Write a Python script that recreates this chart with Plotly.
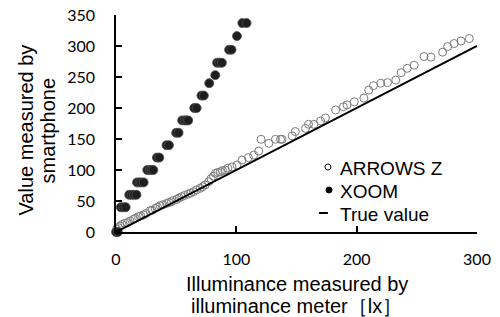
import plotly.graph_objects as go

# ARROWS Z (open circles)
arrows_x = [0.5, 2, 3.3, 5, 7.5, 9.5, 11.7, 14.4, 16, 18.6, 20.5, 22.8, 25, 28.3, 30,
            32.5, 34.5, 36.7, 39, 42, 44, 46, 48, 50.5, 52.5, 54.7, 57, 60, 62, 64.4,
            67, 70, 72, 74, 77, 79, 81, 82.5, 84.5, 86.7, 88.5, 90.8, 93, 96.4, 100.5,
            104.7, 110, 114.4, 118.6, 120.6, 127, 132.5, 136.7, 138, 146.4, 149, 157.5,
            160, 164.4, 170, 174, 182.5, 189, 192, 198, 206, 210, 214, 220, 225.6,
            232.5, 237, 242, 247.8, 256, 261.7, 271.4, 275.6, 281, 286.7, 293.6]
arrows_y = [5, 7, 9.7, 12, 14, 15, 17.7, 20.4, 22, 24.7, 26, 27.4, 30, 34.4, 35,
            38, 40, 42.4, 44, 46, 47.5, 48.9, 51, 52.7, 55, 57, 59, 61, 63, 65,
            68, 70.5, 73, 75.8, 81, 86, 90, 94.6, 96, 97, 99, 100, 103, 105, 108,
            116, 120, 124, 130.6, 149.5, 143, 149.5, 149.5, 149.5, 155, 162, 167,
            173.7, 173.7, 179, 184, 196.8, 202, 205, 210, 216, 229, 236, 240, 241,
            245, 257, 264, 269, 283, 282, 290, 299, 304, 308, 312]

# XOOM (filled circles)
xoom_x = [0, 1.5, 4, 6, 8, 11, 13, 15, 17, 17.5, 19.5, 21, 23, 26, 28, 29.5, 31,
          34, 36, 42, 44, 50, 52, 55, 57, 58.5, 60, 65, 67, 71, 73, 77.5, 82.5,
          84, 86, 88, 94, 96, 100.5, 105, 108.5]
xoom_y = [0, 0, 40, 40, 40, 60, 60, 60, 60, 80, 80, 80, 80, 100, 100, 100, 100,
          120, 120, 140, 140, 160, 160, 180, 180, 180, 180, 200, 200, 220, 220, 240,
          253, 273, 273, 273, 294, 294, 316, 337, 337]

# True value line
true_x = [0, 300]
true_y = [0, 300]

x_ticks = [0, 100, 200, 300]
y_ticks = [0, 50, 100, 150, 200, 250, 300, 350]

legend_names = ["ARROWS Z", "XOOM", "True value"]

fig = go.Figure()
fig.add_trace(go.Scatter(x=arrows_x, y=arrows_y, mode="markers", name=legend_names[0],
                         marker=dict(symbol="circle-open", size=8, color="#7a7a7a",
                                     line=dict(width=1, color="#7a7a7a")),
                         cliponaxis=False))
fig.add_trace(go.Scatter(x=xoom_x, y=xoom_y, mode="markers", name=legend_names[1],
                         marker=dict(symbol="circle", size=9, color="#1e1e1e",
                                     line=dict(width=0.8, color="#505050")),
                         cliponaxis=False))
fig.add_trace(go.Scatter(x=true_x, y=true_y, mode="lines", name=legend_names[2],
                         line=dict(color="black", width=2)))

axis_common = dict(showgrid=False, zeroline=False, showline=True, linecolor="black",
                   linewidth=1.5, ticks="inside", ticklen=6, tickwidth=1.5,
                   tickcolor="black", automargin=False,
                   tickfont=dict(family="Lato", size=16, color="black"))

fig.update_xaxes(range=[0, 300], tickvals=x_ticks, ticklabelstandoff=12, **axis_common)
fig.update_yaxes(range=[0, 350], tickvals=y_ticks, ticklabelstandoff=16, **axis_common)

title_font = dict(family="Liberation Sans, Arial", size=20, color="black")
annos = [
    dict(text="Illuminance measured by", x=0.5, y=-0.24),
    dict(text="illuminance meter［lx］", x=0.5, y=-0.342),
    dict(text="Value measured by", x=-0.248, y=0.47, textangle=-90),
    dict(text="smartphone", x=-0.187, y=0.47, textangle=-90),
]
for a in annos:
    fig.add_annotation(xref="paper", yref="paper", showarrow=False,
                       xanchor="center", yanchor="middle", font=title_font, **a)

# Manual legend (text + symbols)
leg_font = dict(family="Liberation Sans, Arial", size=19, color="black")
leg_y = [0.294, 0.188, 0.082]
for name, ly in zip(legend_names, leg_y):
    fig.add_annotation(xref="paper", yref="paper", showarrow=False, text=name,
                       x=0.614, y=ly, xanchor="left", yanchor="middle", font=leg_font)
fig.add_shape(type="circle", xref="paper", yref="paper", xsizemode="pixel",
              ysizemode="pixel", xanchor=0.587, yanchor=0.2995, x0=-3, x1=3, y0=-3, y1=3,
              line=dict(color="black", width=1), fillcolor="white")
fig.add_shape(type="circle", xref="paper", yref="paper", xsizemode="pixel",
              ysizemode="pixel", xanchor=0.590, yanchor=0.1935, x0=-3, x1=3, y0=-3, y1=3,
              line=dict(color="black", width=1), fillcolor="black")
fig.add_shape(type="line", xref="paper", yref="paper", x0=0.562, x1=0.587,
              y0=0.0876, y1=0.0876, line=dict(color="black", width=2))

fig.update_layout(
    width=500, height=317,
    margin=dict(l=116, r=23, t=15, b=85),
    plot_bgcolor="white", paper_bgcolor="white",
    showlegend=False,
)

fig.write_html("out.html", config={"displayModeBar": False},
               post_script="document.body.style.margin='0';document.body.style.overflow='hidden';")
